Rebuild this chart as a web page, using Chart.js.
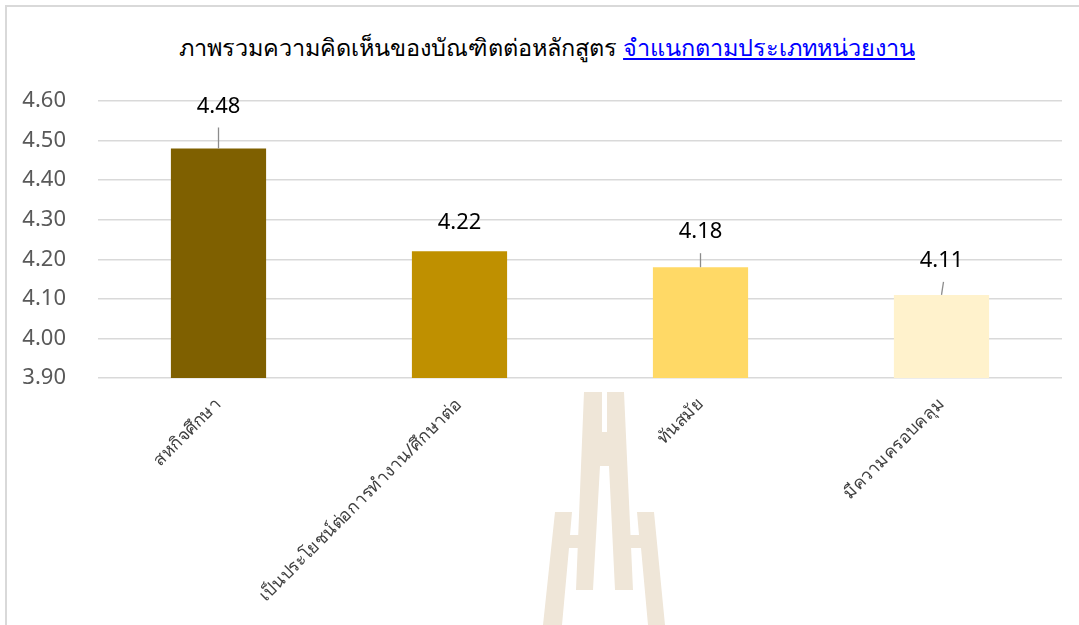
<!DOCTYPE html>
<html lang="th">
<head>
  <meta charset="UTF-8">
  <title>ภาพรวมความคิดเห็นของบัณฑิตต่อหลักสูตร</title>
  <script src="https://cdn.jsdelivr.net/npm/chart.js@4"></script>
  <style>
    html, body {
      margin: 0;
      padding: 0;
      background: #ffffff;
      font-family: "Noto Sans", "DejaVu Sans", sans-serif;
    }
    #wrap {
      position: relative;
      width: 1079px;
      height: 625px;
      overflow: hidden;
    }
    #frame {
      position: absolute;
      left: 5px;
      top: 5px;
      width: 1200px;
      height: 800px;
      border-left: 2px solid #d9d9d9;
      border-top: 2px solid #d9d9d9;
    }
    #logo {
      position: absolute;
      left: 0;
      top: 0;
    }
    #title {
      position: absolute;
      left: 0;
      width: 1094px;
      top: 29px;
      text-align: center;
      font-size: 23.5px;
      color: #000;
    }
    #title span {
      color: #0000ff;
      text-decoration: underline;
    }
    canvas {
      position: absolute;
      left: 0;
      top: 0;
    }
  </style>
</head>
<body>
<div id="wrap">
  <div id="frame"></div>
  <!-- ลายน้ำโลโก้ -->
  <svg id="logo" width="1079" height="625">
    <g fill="#efe6d8">
      <polygon points="584,392 602,392 602,432 607,432 607,392 624,392 633,590 615,590 609,466 600,466 593,590 576,590"/>
      <polygon points="555,512 572,512 570,535 580,535 580,548 569,548 562,625 543,625"/>
      <polygon points="637,512 654,512 665,625 648,625 641,548 629,548 629,535 639,535"/>
    </g>
  </svg>
  <div id="title">ภาพรวมความคิดเห็นของบัณฑิตต่อหลักสูตร <span>จำแนกตามประเภทหน่วยงาน</span></div>
  <canvas id="chart" width="1079" height="625"></canvas>
</div>

<script>
  // ข้อมูล
  const categories = ['สหกิจศึกษา', 'เป็นประโยชน์ต่อการทำงาน/ศึกษาต่อ', 'ทันสมัย', 'มีความครอบคลุม'];
  const scores = [4.48, 4.22, 4.18, 4.11];
  const barColors = ['#7f6000', '#bf9000', '#ffd966', '#fff2cc'];

  // แกน Y
  const yMin = 3.9;
  const yMax = 4.6;
  const yStep = 0.1;

  // ตำแหน่งป้ายค่า (ระยะเหนือแท่ง) และเส้นนำ
  const labelLift = [42, 29, 35, 34];
  const leaderLen = [21, 0, 14, 13];
  const leaderSlant = [0, 0, 0, 2];

  const valueLabels = {
    id: 'valueLabels',
    afterDatasetsDraw(chart) {
      const ctx = chart.ctx;
      const meta = chart.getDatasetMeta(0);
      ctx.save();
      meta.data.forEach((bar, i) => {
        if (leaderLen[i] > 0) {
          ctx.strokeStyle = '#8c8c8c';
          ctx.lineWidth = 1.3;
          ctx.beginPath();
          ctx.moveTo(bar.x, bar.y);
          ctx.lineTo(bar.x + leaderSlant[i], bar.y - leaderLen[i]);
          ctx.stroke();
        }
        ctx.fillStyle = '#000';
        ctx.font = '22px "Noto Sans", "DejaVu Sans", sans-serif';
        ctx.textAlign = 'center';
        ctx.textBaseline = 'middle';
        ctx.fillText(scores[i].toFixed(2), bar.x, bar.y - labelLift[i]);
      });
      ctx.restore();
    }
  };

  const ctx = document.getElementById('chart').getContext('2d');
  new Chart(ctx, {
    type: 'bar',
    data: {
      labels: categories,
      datasets: [{
        data: scores,
        backgroundColor: barColors,
        borderWidth: 0,
        categoryPercentage: 1,
        barPercentage: 0.395
      }]
    },
    options: {
      responsive: false,
      animation: false,
      layout: {
        padding: { left: 10, right: 17, top: 101, bottom: 0 }
      },
      plugins: {
        legend: { display: false },
        tooltip: { enabled: false }
      },
      scales: {
        x: {
          grid: { display: false },
          border: { display: false },
          ticks: {
            color: '#404040',
            font: { size: 17.5, family: '"Noto Sans", "DejaVu Sans", sans-serif' },
            minRotation: 45,
            maxRotation: 45,
            padding: 8
          },
          afterFit(scale) { scale.height = 247; }
        },
        y: {
          min: yMin,
          max: yMax,
          grid: { color: '#d9d9d9', lineWidth: 1.5, drawTicks: false },
          border: { display: false },
          ticks: {
            stepSize: yStep,
            color: '#595959',
            padding: 32,
            font: { size: 22, family: '"Noto Sans", "DejaVu Sans", sans-serif' },
            callback: v => v.toFixed(2)
          },
          afterFit(scale) { scale.width = 88; }
        }
      }
    },
    plugins: [valueLabels]
  });
</script>
</body>
</html>
